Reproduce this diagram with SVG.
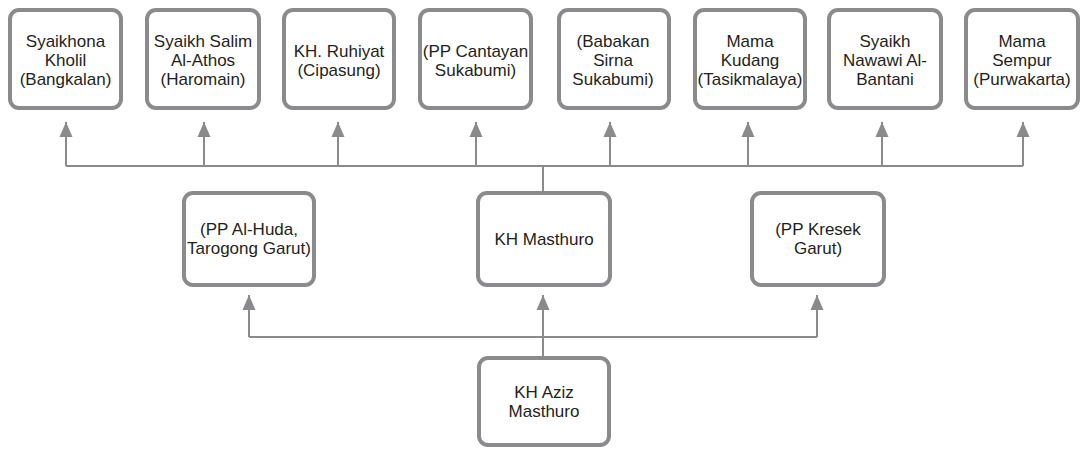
<svg xmlns="http://www.w3.org/2000/svg" width="1084" height="449" viewBox="0 0 1084 449">
  <style>
    .box { fill: #ffffff; stroke: #8b8b8e; stroke-width: 4; }
    .lbl { font-family: "Liberation Sans", Arial, sans-serif; font-size: 17px; fill: #231f20; text-anchor: middle; }
    .wire { fill: none; stroke: #8b8b8e; stroke-width: 2; }
  </style>
  <defs>
    <!-- filled triangular head, tip at the path end -->
    <marker id="arrow" markerUnits="userSpaceOnUse" markerWidth="16" markerHeight="14" viewBox="0 0 16 14" refX="15" refY="7" orient="auto">
      <path d="M0 0.5 L15 7 L0 13.5 Z" fill="#8b8b8e"/>
    </marker>
  </defs>

  <rect width="1084" height="449" fill="#ffffff"/>

  <!-- connectors -->
  <g id="connectors">
    <!-- upper bus: KH Masthuro to teachers -->
    <line class="wire" x1="66" y1="166" x2="1023" y2="166"/>
    <line class="wire" x1="543" y1="166" x2="543" y2="192"/>
    <path class="wire" d="M66 166 V122" marker-end="url(#arrow)"/>
    <path class="wire" d="M204 166 V122" marker-end="url(#arrow)"/>
    <path class="wire" d="M338 166 V122" marker-end="url(#arrow)"/>
    <path class="wire" d="M476 166 V122" marker-end="url(#arrow)"/>
    <path class="wire" d="M610 166 V122" marker-end="url(#arrow)"/>
    <path class="wire" d="M748 166 V122" marker-end="url(#arrow)"/>
    <path class="wire" d="M882 166 V122" marker-end="url(#arrow)"/>
    <path class="wire" d="M1023 166 V122" marker-end="url(#arrow)"/>
    <!-- lower bus: KH Aziz Masthuro to teachers -->
    <line class="wire" x1="249" y1="337" x2="817" y2="337"/>
    <line class="wire" x1="543" y1="337" x2="543" y2="357"/>
    <path class="wire" d="M249 337 V295" marker-end="url(#arrow)"/>
    <path class="wire" d="M543 337 V295" marker-end="url(#arrow)"/>
    <path class="wire" d="M817 337 V295" marker-end="url(#arrow)"/>
  </g>

  <!-- top row -->
  <g id="n-kholil">
    <rect class="box" x="10" y="10" width="111" height="98" rx="9"/>
    <text class="lbl" x="65.5" y="47">Syaikhona</text>
    <text class="lbl" x="65.5" y="66">Kholil</text>
    <text class="lbl" x="65.5" y="85">(Bangkalan)</text>
  </g>
  <g id="n-salim">
    <rect class="box" x="147" y="10" width="112" height="98" rx="9"/>
    <text class="lbl" x="203" y="47">Syaikh Salim</text>
    <text class="lbl" x="203" y="66">Al-Athos</text>
    <text class="lbl" x="203" y="85">(Haromain)</text>
  </g>
  <g id="n-ruhiyat">
    <rect class="box" x="284" y="10" width="110" height="98" rx="9"/>
    <text class="lbl" x="339" y="57">KH. Ruhiyat</text>
    <text class="lbl" x="339" y="76">(Cipasung)</text>
  </g>
  <g id="n-cantayan">
    <rect class="box" x="420" y="10" width="111" height="98" rx="9"/>
    <text class="lbl" x="475.5" y="57">(PP Cantayan</text>
    <text class="lbl" x="475.5" y="76">Sukabumi)</text>
  </g>
  <g id="n-babakan">
    <rect class="box" x="559" y="10" width="110" height="98" rx="9"/>
    <text class="lbl" x="613" y="47">(Babakan</text>
    <text class="lbl" x="613" y="66">Sirna</text>
    <text class="lbl" x="613" y="85">Sukabumi)</text>
  </g>
  <g id="n-kudang">
    <rect class="box" x="695" y="10" width="110" height="98" rx="9"/>
    <text class="lbl" x="750" y="47">Mama</text>
    <text class="lbl" x="750" y="66">Kudang</text>
    <text class="lbl" x="750" y="85">(Tasikmalaya)</text>
  </g>
  <g id="n-nawawi">
    <rect class="box" x="829" y="10" width="112" height="98" rx="9"/>
    <text class="lbl" x="885" y="47">Syaikh</text>
    <text class="lbl" x="885" y="66">Nawawi Al-</text>
    <text class="lbl" x="885" y="85">Bantani</text>
  </g>
  <g id="n-sempur">
    <rect class="box" x="966" y="10" width="112" height="98" rx="9"/>
    <text class="lbl" x="1022" y="47">Mama</text>
    <text class="lbl" x="1022" y="66">Sempur</text>
    <text class="lbl" x="1022" y="85">(Purwakarta)</text>
  </g>

  <!-- middle row -->
  <g id="n-alhuda">
    <rect class="box" x="184" y="193" width="130" height="92" rx="9"/>
    <text class="lbl" x="249" y="235">(PP Al-Huda,</text>
    <text class="lbl" x="249" y="254">Tarogong Garut)</text>
  </g>
  <g id="n-masthuro">
    <rect class="box" x="478" y="193" width="132" height="92" rx="9"/>
    <text class="lbl" x="544" y="245">KH Masthuro</text>
  </g>
  <g id="n-kresek">
    <rect class="box" x="752" y="193" width="132" height="92" rx="9"/>
    <text class="lbl" x="818" y="235">(PP Kresek</text>
    <text class="lbl" x="818" y="254">Garut)</text>
  </g>

  <!-- bottom row -->
  <g id="n-aziz">
    <rect class="box" x="479" y="358" width="130" height="87" rx="9"/>
    <text class="lbl" x="544" y="398">KH Aziz</text>
    <text class="lbl" x="544" y="417">Masthuro</text>
  </g>
</svg>
